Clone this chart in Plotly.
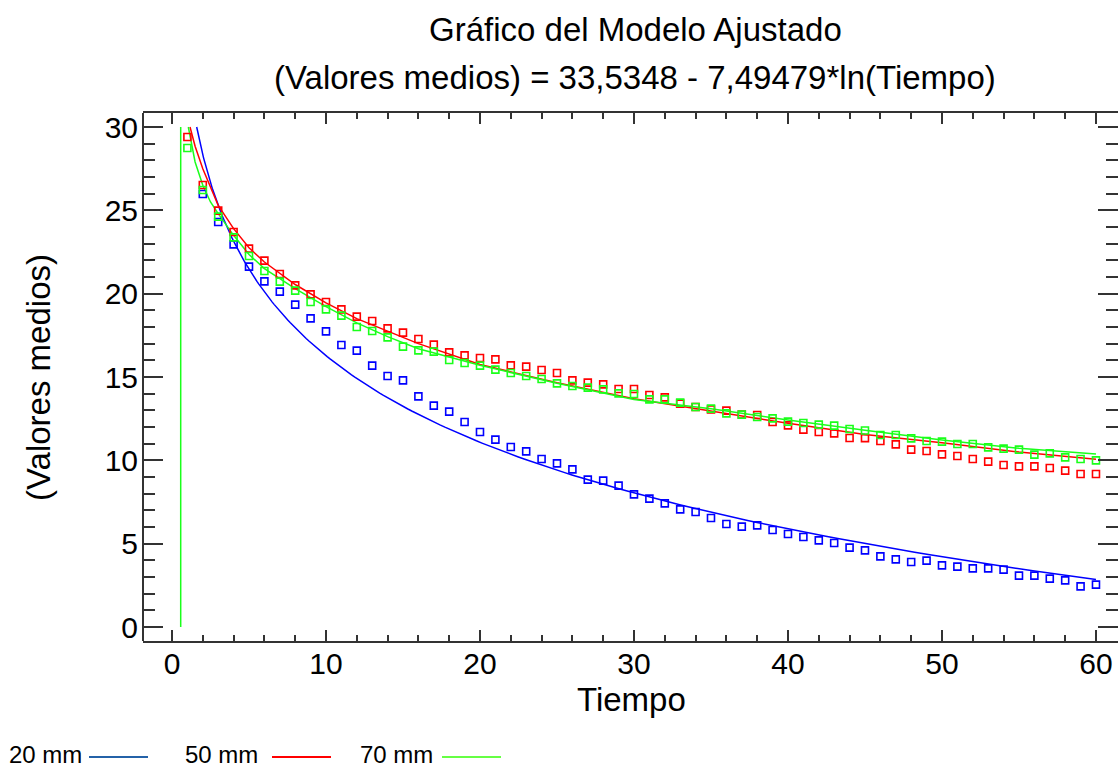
import numpy as np
import plotly.graph_objects as go

# ---- data -------------------------------------------------------------
tiempo = list(range(1, 61))

medias_20 = [None, 25.98, 24.30, 22.96, 21.62, 20.74, 20.12, 19.34, 18.52, 17.74,
             16.92, 16.58, 15.68, 15.06, 14.80, 13.84, 13.28, 12.92, 12.30, 11.70,
             11.24, 10.80, 10.54, 10.08, 9.82, 9.46, 8.84, 8.78, 8.48, 7.96,
             7.70, 7.42, 7.06, 6.90, 6.54, 6.18, 6.02, 6.10, 5.82, 5.58,
             5.40, 5.20, 5.04, 4.76, 4.60, 4.24, 4.06, 3.90, 3.98, 3.70,
             3.62, 3.52, 3.52, 3.44, 3.08, 3.08, 2.90, 2.80, 2.44, 2.54]

medias_50 = [29.40, 26.52, 24.98, 23.70, 22.70, 21.98, 21.18, 20.50, 19.96, 19.50,
             19.06, 18.62, 18.36, 17.92, 17.66, 17.28, 16.94, 16.48, 16.30, 16.14,
             16.06, 15.70, 15.62, 15.42, 15.24, 14.80, 14.66, 14.56, 14.28, 14.28,
             13.92, 13.78, 13.40, 13.20, 13.05, 12.98, 12.75, 12.72, 12.30, 12.10,
             11.84, 11.70, 11.62, 11.34, 11.33, 11.16, 10.96, 10.64, 10.56, 10.36,
             10.26, 10.08, 9.92, 9.72, 9.64, 9.64, 9.54, 9.38, 9.18, 9.18]

medias_70 = [28.74, 26.22, 24.62, 23.38, 22.26, 21.36, 20.72, 20.18, 19.50, 19.06,
             18.68, 18.00, 17.76, 17.38, 16.82, 16.60, 16.52, 16.02, 15.84, 15.68,
             15.44, 15.24, 15.06, 14.88, 14.62, 14.46, 14.36, 14.26, 14.02, 13.98,
             13.66, 13.66, 13.46, 13.20, 13.10, 12.82, 12.74, 12.60, 12.52, 12.32,
             12.24, 12.14, 12.08, 11.88, 11.79, 11.52, 11.52, 11.32, 11.16, 11.12,
             10.98, 10.98, 10.78, 10.70, 10.64, 10.34, 10.42, 10.18, 10.08, 10.00]

# fitted model for 20 mm (coefficients as printed in the title)
coef_a = 33.5348
coef_b = 7.49479
y_tope = 30.0  # fitted curves are drawn only up to this value

# fitted curves for 50 mm and 70 mm
t_ajuste_50 = [1.17, 1.5, 2, 2.5, 3, 4, 5, 6, 8, 10, 12, 14, 16, 20, 25, 30, 35, 40, 45, 50, 55, 60]
ajuste_50 = [30.0, 28.85, 27.5, 26.35, 25.3, 23.9, 22.75, 21.9, 20.55, 19.45, 18.5, 17.75,
             17.0, 15.75, 14.65, 13.7, 12.95, 12.22, 11.55, 11.05, 10.5, 10.06]

t_ajuste_70 = [0.565, 0.565, None, 1.06, 1.2, 1.5, 2, 2.5, 3, 4, 5, 6, 8, 10, 12, 14, 16, 20,
               25, 30, 35, 40, 45, 50, 55, 60]
ajuste_70 = [0.0, 30.0, None, 30.0, 29.3, 27.9, 26.5, 25.5, 24.8, 23.5, 22.35, 21.5, 20.3,
             19.22, 18.25, 17.42, 16.7, 15.7, 14.62, 13.65, 13.1, 12.42, 11.8, 11.22,
             10.72, 10.38]

series = ["20 mm", "50 mm", "70 mm"]
colores = ["#0000ff", "#ff0000", "#1aff1a"]
colores_leyenda = ["#2462a8", "#ff0000", "#66ff44"]

titulo = "Gráfico del Modelo Ajustado"
subtitulo = "(Valores medios) = 33,5348 - 7,49479*ln(Tiempo)"
x_titulo = "Tiempo"
y_titulo = "(Valores medios)"

# ---- figure -----------------------------------------------------------
FONT = "Liberation Sans, Arial, sans-serif"
W, H = 1118, 767
ML, MR, MT, MB = 143, 0, 113, 126

t0 = float(np.exp((coef_a - y_tope) / coef_b))
t_mod = np.geomspace(t0, 60, 200)
ajuste_20 = coef_a - coef_b * np.log(t_mod)

fig = go.Figure()

ajustes = [(t_mod, ajuste_20), (t_ajuste_50, ajuste_50), (t_ajuste_70, ajuste_70)]
medias = [medias_20, medias_50, medias_70]

for (tx, ty), col in zip(ajustes, colores):
    fig.add_trace(go.Scatter(x=tx, y=ty, mode="lines", connectgaps=False,
                             line=dict(color=col, width=1.5), showlegend=False,
                             hoverinfo="skip"))

for vals, col, name in zip(medias, colores, series):
    fig.add_trace(go.Scatter(x=tiempo, y=vals, mode="markers", name=name,
                             marker=dict(symbol="square-open", size=7, color=col,
                                         line=dict(color=col, width=1.6)),
                             showlegend=False))

axis_common = dict(
    ticks="inside", tickcolor="#333333", tickwidth=2,
    tickfont=dict(family=FONT, size=30, color="#000000"),
    showgrid=False, zeroline=False,
)

fig.update_xaxes(
    range=[-1.883, 61.43], tick0=0, dtick=10, ticklen=11,
    minor=dict(ticks="inside", dtick=2, ticklen=6, tickcolor="#333333", tickwidth=2),
    showline=True, linecolor="#333333", linewidth=2, mirror="ticks",
    ticklabelstandoff=-5,
    **axis_common,
)
fig.update_yaxes(
    range=[-0.84, 30.84], tick0=0, dtick=5, ticklen=20,
    minor=dict(ticks="inside", dtick=1, ticklen=12, tickcolor="#333333", tickwidth=2),
    showline=False, mirror="ticks",
    ticklabelstandoff=4,
    **axis_common,
)

# left frame line (the right one lies past the page edge)
fig.add_shape(type="line", xref="paper", yref="paper", x0=0, x1=0, y0=0, y1=1,
              line=dict(color="#333333", width=2))

plot_w = W - ML - MR
plot_h = H - MT - MB


def px_x(px):
    return (px - ML) / plot_w


def px_y(py):
    return (H - MB - py) / plot_h


def texto(s, x, y, size, anchor="center", angle=0):
    fig.add_annotation(text=s, x=px_x(x), y=px_y(y), xref="paper", yref="paper",
                       showarrow=False, xanchor=anchor, yanchor="middle",
                       textangle=angle,
                       font=dict(family=FONT, size=size, color="#000000"))


# two-line heading, centred over the full frame
texto(titulo, 635, 30, 33)
texto(subtitulo, 635, 77, 33)

# axis titles
texto(x_titulo, 631, 699, 33)
texto(y_titulo, 38, 378, 33, angle=-90)

# key below the axis: label followed by a line sample
texto_x = [7, 183, 358]
linea_x = [(89, 148), (272, 331), (442, 501)]
ley_y = 754
for name, col, tx, (l0, l1) in zip(series, colores_leyenda, texto_x, linea_x):
    texto(name, tx, ley_y, 24, anchor="left")
    fig.add_shape(type="line", xref="paper", yref="paper",
                  x0=px_x(l0), x1=px_x(l1), y0=px_y(757), y1=px_y(757),
                  line=dict(color=col, width=2))

fig.update_layout(
    width=W, height=H,
    margin=dict(l=ML, r=MR, t=MT, b=MB, pad=0),
    paper_bgcolor="#ffffff", plot_bgcolor="#ffffff",
    showlegend=False,
)

fig.write_html("out.html")
